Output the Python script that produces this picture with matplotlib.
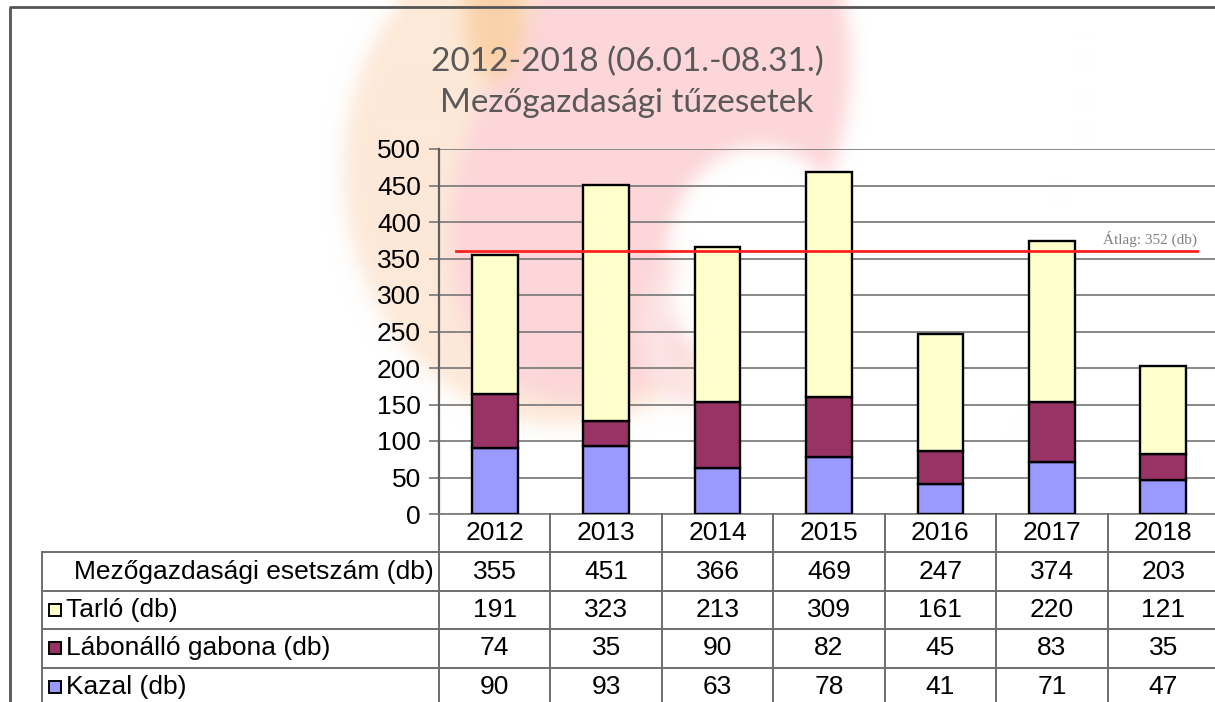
import numpy as np
import matplotlib
matplotlib.use("Agg")
import matplotlib.pyplot as plt
from matplotlib.patches import Rectangle
from matplotlib.lines import Line2D

# data
years = ["2012", "2013", "2014", "2015", "2016", "2017", "2018"]
tarlo = [191, 323, 213, 309, 161, 220, 121]
labonallo = [74, 35, 90, 82, 45, 83, 35]
kazal = [90, 93, 63, 78, 41, 71, 47]
total_label = "Mezőgazdasági esetszám (db)"
series_labels = ["Tarló (db)", "Lábonálló gabona (db)", "Kazal (db)"]
avg_line = 360          # where the red line sits in the picture
avg_text = "Átlag: 352 (db)"

c_tarlo = "#FFFFCC"
c_labon = "#993366"
c_kazal = "#9999FF"
grid_c = "#7f7f7f"

W, H = 1215, 702
fig = plt.figure(figsize=(W / 100, H / 100), dpi=100)
fig.patch.set_facecolor("white")


# faded flame logo behind the chart, painted as a soft bitmap
def ellipse_mask(cx, cy, a, b, ang=0.0):
    yy, xx = np.mgrid[0:H, 0:W]
    t = np.deg2rad(ang)
    dx, dy = xx - cx, yy - cy
    u = dx * np.cos(t) + dy * np.sin(t)
    v = -dx * np.sin(t) + dy * np.cos(t)
    return (u / a) ** 2 + (v / b) ** 2 <= 1


def box_blur(img, r):
    for axis in (0, 1):
        pad = [(0, 0)] * 3
        pad[axis] = (r + 1, r)
        p = np.pad(img, pad, mode="edge")
        c = np.cumsum(p, axis=axis)
        n = img.shape[axis]
        hi = np.take(c, np.arange(2 * r + 1, 2 * r + 1 + n), axis=axis)
        lo = np.take(c, np.arange(0, n), axis=axis)
        img = (hi - lo) / (2 * r + 1)
    return img


logo = np.ones((H, W, 3))
logo[ellipse_mask(565, 170, 222, 255)] = np.array([253, 233, 216]) / 255
logo[ellipse_mask(650, 150, 270, 175, 118)] = np.array([252, 214, 216]) / 255
logo[ellipse_mask(495, 15, 30, 65)] = np.array([250, 210, 170]) / 255
logo[ellipse_mask(760, 265, 95, 120)] = 1.0
logo[ellipse_mask(690, 330, 50, 75) & ~ellipse_mask(715, 310, 45, 75)] = np.array([253, 228, 228]) / 255
logo = np.clip(box_blur(box_blur(logo, 10), 10), 0, 1)

bg = fig.add_axes([0, 0, 1, 1], zorder=-10)
bg.imshow(logo, extent=(0, W, H, 0), interpolation="bilinear")
bg.set_xlim(0, W)
bg.set_ylim(H, 0)
bg.axis("off")
# outer frame
bg.add_line(Line2D([10, 10, W], [H, 7, 7], color="#555555", lw=2))

# main chart
x0, x1 = 439, 1219
ax = fig.add_axes([x0 / W, 1 - 514 / H, (x1 - x0) / W, (514 - 149) / H])
ax.set_facecolor("none")
x = np.arange(len(years))
bw = 0.41
kw = dict(width=bw, edgecolor="black", linewidth=1.7, zorder=3)
ax.bar(x, kazal, color=c_kazal, **kw)
ax.bar(x, labonallo, bottom=kazal, color=c_labon, **kw)
ax.bar(x, tarlo, bottom=np.add(kazal, labonallo), color=c_tarlo, **kw)

ax.set_xlim(-0.5, 6.5)
ax.set_ylim(0, 500)
ax.set_yticks(range(0, 501, 50))
ax.set_xticks([])
ax.yaxis.grid(True, color=grid_c, lw=1.3, zorder=0)
ax.tick_params(axis="y", length=7, width=1.3, color=grid_c, pad=6,
               labelsize=19, labelcolor="black")
for lab in ax.get_yticklabels():
    lab.set_fontfamily("Liberation Sans")
for s in ["top", "right"]:
    ax.spines[s].set_visible(False)
ax.spines["left"].set_color("#606060")
ax.spines["left"].set_linewidth(1.6)
ax.spines["bottom"].set_color(grid_c)
ax.spines["bottom"].set_linewidth(1.3)

ax.plot([-0.35, 6.3], [avg_line, avg_line], color="#ff2020", lw=2, zorder=4)
ax.text(6.3, avg_line + 6, avg_text, ha="right", va="bottom",
        fontsize=11, color="#808080", family="Liberation Serif", zorder=5)

fig.text(627 / W, 1 - 62 / H, "2012-2018 (06.01.-08.31.)", ha="center", va="center",
         fontsize=24, color="#595959", family="Lato")
fig.text(627 / W, 1 - 103 / H, "Mezőgazdasági tűzesetek", ha="center", va="center",
         fontsize=24, color="#595959", family="Lato")

# data table under the chart
row_h = 38.4
tax = fig.add_axes([x0 / W, 1 - (514 + 5 * row_h) / H, (x1 - x0) / W, 5 * row_h / H])
tax.set_xlim(-0.5, 6.5)
tax.set_ylim(5, 0)
tax.axis("off")
col_w = (x1 - x0) / 7
left = -0.5 - (x0 - 42) / col_w
lkw = dict(color="#6e6e6e", lw=1.4, clip_on=False)
for k in range(8):
    tax.plot([k - 0.5, k - 0.5], [0, 5], **lkw)
tax.plot([left, left], [1, 5], **lkw)
for r in range(1, 5):
    tax.plot([left, 6.5], [r, r], **lkw)

rows = [np.add(np.add(tarlo, labonallo), kazal), tarlo, labonallo, kazal]
tfont = dict(fontsize=19, family="Liberation Sans", va="center", clip_on=False)
for i, yr in enumerate(years):
    tax.text(i, 0.5, yr, ha="center", **tfont)
    for r, vals in enumerate(rows):
        tax.text(i, r + 1.5, str(vals[i]), ha="center", **tfont)

tax.text(-0.55, 1.5, total_label, ha="right", **tfont)
kx = left + 7 / col_w
for r, (lab, col) in enumerate(zip(series_labels, [c_tarlo, c_labon, c_kazal])):
    tax.add_patch(Rectangle((kx, r + 2.5 - 6 / row_h), 12 / col_w, 12 / row_h,
                            facecolor=col, edgecolor="black", lw=1.4, clip_on=False))
    tax.text(kx + 17 / col_w, r + 2.5, lab, ha="left", **tfont)

fig.savefig("out.png", dpi=100)
